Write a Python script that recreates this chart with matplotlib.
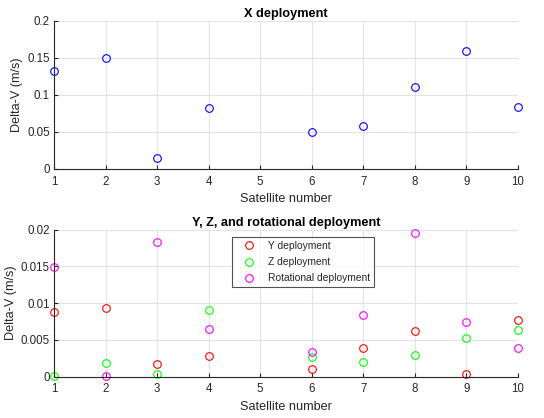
import numpy as np
import matplotlib
matplotlib.use("Agg")
import matplotlib.pyplot as plt

plt.rcParams['font.family'] = ['Liberation Sans', 'DejaVu Sans']

# satellite numbers (no data for satellite 5)
sats = [1, 2, 3, 4, 6, 7, 8, 9, 10]

# delta-V values (m/s)
dv_x = [0.132, 0.1505, 0.0144, 0.0824, 0.0495, 0.058, 0.111, 0.160, 0.0838]
dv_y = [0.00873, 0.0093, 0.0017, 0.0028, 0.0010, 0.00395, 0.00618, 0.0003, 0.00773]
dv_z = [0.0001, 0.00186, 0.0003, 0.0090, 0.0027, 0.0020, 0.00295, 0.00518, 0.0064]
dv_rot = [0.01486, 0.0001, 0.0183, 0.0065, 0.00336, 0.00836, 0.01955, 0.0074, 0.00395]

xticks = list(range(1, 11))
fs = 8.3
axcol = '#262626'

fig = plt.figure(figsize=(5.44, 4.18), dpi=100)
W, H = 544, 418
ax1 = fig.add_axes([54 / W, 1 - 169 / H, 464 / W, 148 / H])
ax2 = fig.add_axes([54 / W, 1 - 376.5 / H, 464 / W, 146.8 / H])


def style(ax, ylim, yticks, ylabels):
    ax.set_xlim(1, 10)
    ax.set_ylim(*ylim)
    ax.set_xticks(xticks)
    ax.set_yticks(yticks)
    ax.set_yticklabels(ylabels)
    ax.grid(True, color='#e3e3e3', linewidth=0.8)
    ax.set_axisbelow(True)
    for s in ['top', 'right']:
        ax.spines[s].set_visible(False)
    for s in ['left', 'bottom']:
        ax.spines[s].set_color(axcol)
        ax.spines[s].set_linewidth(0.8)
    ax.tick_params(direction='in', length=3, width=0.8, color=axcol,
                   labelcolor=axcol, labelsize=fs)
    ax.tick_params(axis='x', pad=5)
    ax.tick_params(axis='y', pad=3)
    ax.set_xlabel('Satellite number', fontsize=9.1, color=axcol, labelpad=4)
    ax.set_ylabel('Delta-V (m/s)', fontsize=9.1, color=axcol, labelpad=3)


mk = dict(linestyle='none', marker='o', markersize=5.5, markerfacecolor='none',
          markeredgewidth=0.8, clip_on=False)

ax1.plot(sats, dv_x, markeredgecolor='#0000ff', **mk)
style(ax1, (0, 0.2), [0, 0.05, 0.1, 0.15, 0.2], ['0', '0.05', '0.1', '0.15', '0.2'])
ax1.set_title('X deployment', fontsize=9.2, fontweight='bold', pad=3)

ax2.plot(sats, dv_y, markeredgecolor='#ff0000', label='Y deployment', **mk)
ax2.plot(sats, dv_z, markeredgecolor='#00ff00', label='Z deployment', **mk)
ax2.plot(sats, dv_rot, markeredgecolor='#ff00ff', label='Rotational deployment', **mk)
style(ax2, (0, 0.02), [0, 0.005, 0.01, 0.015, 0.02],
      ['0', '0.005', '0.01', '0.015', '0.02'])
ax2.set_title('Y, Z, and rotational deployment', fontsize=9.2,
              fontweight='bold', pad=3)

leg = ax2.legend(loc='upper left', bbox_to_anchor=(0.384, 0.95), borderaxespad=0,
                 fontsize=7.4, frameon=True, fancybox=False,
                 handlelength=2.6, handletextpad=0.5, labelspacing=0.6,
                 borderpad=0.38)
leg.get_frame().set_edgecolor(axcol)
leg.get_frame().set_linewidth(0.8)
for t in leg.get_texts():
    t.set_color(axcol)

fig.savefig('out.png', dpi=100)
